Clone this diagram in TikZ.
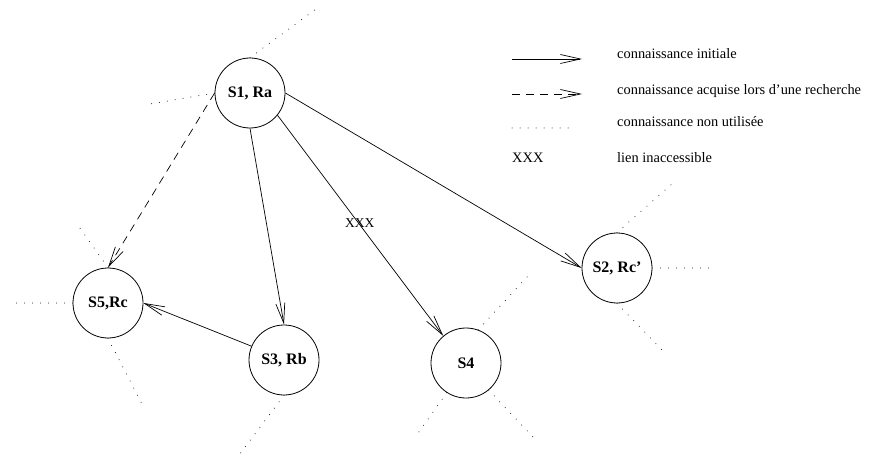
\documentclass[tikz,border=0pt]{standalone}
\usepackage{fontspec}
\setmainfont{Liberation Serif}
\usetikzlibrary{arrows.meta}

\begin{document}
\begin{tikzpicture}[x=1pt,y=-1pt,
  site/.style={draw,circle,line width=0.8pt,minimum size=70pt,inner sep=0pt,
    font=\fontsize{16}{16}\selectfont\bfseries},
  known/.style={line width=0.7pt,-{Straight Barb[length=20pt,width=9pt,line width=0.7pt]}},
  learnt/.style={known,dash pattern=on 8pt off 6pt},
  unused/.style={line width=1pt,line cap=round,dash pattern=on 0pt off 8pt},
  legtext/.style={anchor=base west,inner sep=0pt,font=\fontsize{14.4}{14.4}\selectfont}
]
\useasboundingbox (0,0) rectangle (896,462);

% sites
\node[site] (s1) at (250,93)  {S1, Ra};
\node[site] (s2) at (617,268) {S2, Rc'};
\node[site] (s3) at (284,360) {S3, Rb};
\node[site] (s4) at (466,363) {S4};
\node[site] (s5) at (108,303) {S5,Rc};

% links known from the start
\draw[known] (s1.south) -- (s3.north);
\draw[known] (s1.-39) -- (s4.130);
\draw[known] (s1.east) -- (s2.west);
\draw[known] (s3.157) -- (s5.east);
% link learnt during a search
\draw[learnt] (s1.west) -- (s5.north);
% unreachable link marker
\node[legtext,font=\fontsize{13.5}{13.5}\selectfont] (xxx) at (345,228) {XXX};

% unused links
\coordinate (u1a) at (316,9);
\coordinate (u1b) at (150,104);
\coordinate (u2a) at (673,183);
\coordinate (u2b) at (716,268);
\coordinate (u2c) at (662,350);
\coordinate (u3a) at (236,459);
\coordinate (u4a) at (528,276);
\coordinate (u4b) at (416,436);
\coordinate (u4c) at (533,437);
\coordinate (u5a) at (77,224);
\coordinate (u5b) at (9,303);
\coordinate (u5c) at (142,404);
\draw[unused] (s1.north) -- (u1a);
\draw[unused] (s1.west) -- (u1b);
\draw[unused] (s2.north) -- (u2a);
\draw[unused] (s2.east) -- (u2b);
\draw[unused] (s2.south) -- (u2c);
\draw[unused] (s3.south) -- (u3a);
\draw[unused] (s4.70) -- (u4a);
\draw[unused] (s4.-123) -- (u4b);
\draw[unused] (s4.-50) -- (u4c);
\draw[unused] (s5.north) -- (u5a);
\draw[unused] (s5.west) -- (u5b);
\draw[unused] (s5.south) -- (u5c);

% legend
\coordinate (l1a) at (512,59);  \coordinate (l1b) at (582,59);
\coordinate (l2a) at (512,94);  \coordinate (l2b) at (582,94);
\coordinate (l3a) at (512,128); \coordinate (l3b) at (574,128);
\draw[known] (l1a) -- (l1b);
\draw[learnt] (l2a) -- (l2b);
\draw[unused] (l3a) -- (l3b);
\node[legtext] (lx) at (512,163) {XXX};
\node[legtext] (t1) at (617,59)  {connaissance initiale};
\node[legtext] (t2) at (617,95)  {connaissance acquise lors d’une recherche};
\node[legtext] (t3) at (617,127) {connaissance non utilisée};
\node[legtext] (t4) at (617,163) {lien inaccessible};
\end{tikzpicture}
\end{document}
